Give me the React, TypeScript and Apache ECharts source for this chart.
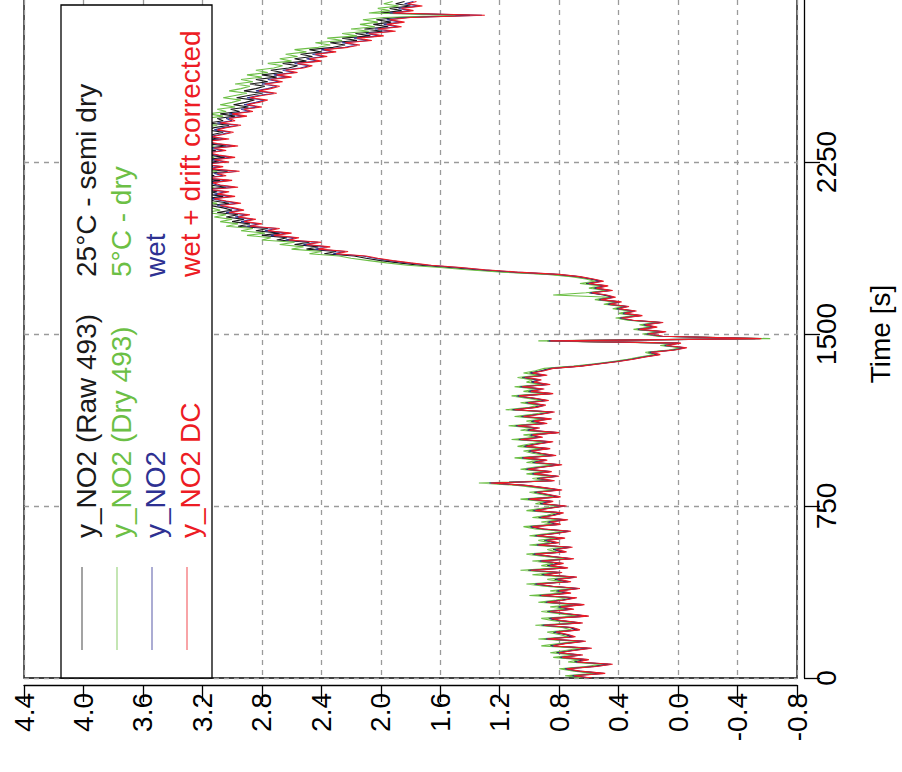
import React, { useEffect, useRef } from "react";
import * as echarts from "echarts";

const SAMPLE_STEP_S = 10;

const RAW_493 = [
 0.60,0.73,0.52,0.68,0.77,0.58,0.47,0.70,0.63,0.80,
 0.66,0.82,0.72,0.61,0.86,0.78,0.64,0.90,0.71,0.76,
 0.84,0.68,0.73,0.92,0.66,0.80,0.87,0.62,0.76,0.88,
 0.72,0.81,0.65,0.90,0.78,0.70,0.94,0.74,0.82,0.68,
 0.86,0.97,0.74,0.83,0.70,0.92,0.80,1.01,0.76,0.88,
 0.79,0.94,0.72,0.86,0.98,0.77,0.84,0.73,0.96,0.82,
 0.90,0.78,0.97,0.84,0.74,0.92,1.00,0.81,0.88,0.76,
 0.94,0.85,0.79,0.98,0.88,0.77,0.93,0.86,1.02,0.81,
 0.89,0.97,0.80,0.92,1.04,1.24,0.85,0.95,0.82,0.99,
 0.87,1.03,0.92,0.80,0.98,0.90,1.06,0.84,0.94,1.01,
 0.88,1.04,0.96,0.86,1.08,0.93,1.00,0.82,1.02,0.95,
 1.10,0.90,0.99,0.87,1.06,0.94,0.85,1.12,0.97,0.91,
 1.03,0.89,0.98,1.09,0.86,1.01,0.92,1.07,0.88,0.99,
 0.94,1.05,0.90,1.00,0.92,0.86,0.67,0.54,0.42,0.32,
 0.24,0.14,0.20,0.04,-0.04,0.10,0.00,0.88,-0.52,0.12,
 0.22,0.10,0.28,0.16,0.24,0.12,0.32,0.40,0.26,0.38,
 0.30,0.42,0.35,0.48,0.40,0.54,0.44,0.50,0.60,0.46,
 0.57,0.49,0.62,0.52,0.59,0.68,0.84,1.14,1.36,1.54,
 1.74,1.88,2.00,2.10,2.18,2.38,2.30,2.50,2.42,2.58,
 2.48,2.70,2.63,2.80,2.68,2.84,2.76,2.96,2.88,3.00,
 2.92,3.04,2.96,3.10,3.00,3.06,3.15,3.02,3.12,3.19,
 3.06,3.17,3.10,3.23,3.04,3.15,3.20,3.08,3.25,3.12,
 3.17,3.03,3.21,3.13,3.27,3.09,3.19,3.05,3.16,3.23,
 3.11,3.19,3.04,3.17,3.25,3.09,3.21,3.13,3.06,3.17,
 3.12,3.02,3.16,3.06,3.10,2.98,3.08,2.95,3.01,2.89,
 2.99,2.91,2.85,2.97,2.89,2.80,2.92,2.84,2.78,2.88,
 2.76,2.84,2.70,2.80,2.66,2.74,2.62,2.56,2.66,2.50,
 2.58,2.46,2.54,2.40,2.48,2.32,2.24,2.34,2.16,2.26,
 2.07,2.17,1.99,2.11,1.95,2.05,1.93,2.03,1.89,1.40,
 2.00,1.86,1.94,1.80,1.90,1.84];

const DRY_493 = [
 0.64,0.76,0.56,0.70,0.80,0.62,0.52,0.74,0.66,0.84,
 0.70,0.86,0.76,0.66,0.92,0.80,0.68,0.94,0.74,0.80,
 0.88,0.72,0.78,0.96,0.70,0.84,0.92,0.68,0.80,0.92,
 0.76,0.86,0.70,0.94,0.82,0.74,1.00,0.78,0.86,0.72,
 0.90,1.02,0.78,0.88,0.74,0.98,0.84,1.06,0.80,0.92,
 0.84,0.98,0.76,0.90,1.02,0.82,0.88,0.78,1.00,0.86,
 0.94,0.82,1.00,0.88,0.78,0.96,1.04,0.84,0.92,0.80,
 0.98,0.88,0.82,1.02,0.92,0.80,0.96,0.90,1.06,0.84,
 0.92,1.00,0.84,0.96,1.08,1.34,0.88,0.98,0.86,1.02,
 0.90,1.06,0.96,0.84,1.02,0.94,1.10,0.88,0.98,1.04,
 0.92,1.08,1.00,0.90,1.12,0.96,1.04,0.86,1.06,0.98,
 1.14,0.94,1.02,0.90,1.10,0.98,0.88,1.16,1.00,0.94,
 1.06,0.92,1.02,1.12,0.90,1.04,0.96,1.10,0.92,1.02,
 0.98,1.08,0.94,1.04,0.96,0.90,0.70,0.56,0.44,0.34,
 0.26,0.16,0.22,0.06,-0.02,0.12,0.02,0.94,-0.62,0.14,
 0.24,0.12,0.30,0.18,0.26,0.14,0.34,0.42,0.28,0.40,
 0.32,0.44,0.37,0.50,0.42,0.56,0.46,0.84,0.62,0.48,
 0.60,0.52,0.66,0.56,0.62,0.72,0.88,1.18,1.42,1.60,
 1.82,1.96,2.08,2.20,2.28,2.48,2.40,2.60,2.52,2.68,
 2.58,2.80,2.74,2.90,2.78,2.94,2.86,3.04,2.96,3.08,
 3.00,3.12,3.04,3.18,3.08,3.14,3.22,3.10,3.20,3.26,
 3.14,3.24,3.18,3.30,3.12,3.22,3.28,3.16,3.32,3.20,
 3.24,3.10,3.28,3.20,3.34,3.16,3.26,3.12,3.24,3.30,
 3.18,3.26,3.12,3.24,3.32,3.16,3.28,3.20,3.14,3.24,
 3.20,3.10,3.24,3.14,3.18,3.06,3.16,3.04,3.10,2.98,
 3.08,3.00,2.94,3.06,2.98,2.90,3.02,2.94,2.88,2.98,
 2.86,2.94,2.80,2.90,2.76,2.84,2.72,2.66,2.76,2.60,
 2.68,2.56,2.64,2.50,2.58,2.42,2.34,2.44,2.26,2.36,
 2.16,2.26,2.08,2.20,2.04,2.14,2.02,2.12,1.98,1.50,
 2.08,1.94,2.02,1.88,1.98,1.92];

const WET = [
 0.59,0.71,0.50,0.67,0.76,0.56,0.45,0.69,0.61,0.79,
 0.65,0.81,0.71,0.59,0.85,0.77,0.63,0.89,0.70,0.75,
 0.83,0.67,0.72,0.91,0.65,0.79,0.86,0.61,0.75,0.87,
 0.71,0.80,0.64,0.89,0.77,0.69,0.93,0.73,0.81,0.67,
 0.85,0.96,0.73,0.82,0.69,0.91,0.79,1.00,0.75,0.87,
 0.78,0.93,0.71,0.85,0.97,0.76,0.83,0.72,0.95,0.81,
 0.89,0.77,0.96,0.83,0.73,0.91,0.99,0.80,0.87,0.75,
 0.93,0.84,0.78,0.97,0.87,0.76,0.92,0.85,1.01,0.80,
 0.88,0.96,0.79,0.91,1.03,1.27,0.84,0.94,0.81,0.98,
 0.86,1.02,0.91,0.79,0.97,0.89,1.05,0.83,0.93,1.00,
 0.87,1.03,0.95,0.85,1.07,0.92,0.99,0.81,1.01,0.94,
 1.09,0.89,0.98,0.86,1.05,0.93,0.84,1.11,0.96,0.90,
 1.02,0.88,0.97,1.08,0.85,1.00,0.91,1.06,0.87,0.98,
 0.93,1.04,0.89,0.99,0.91,0.85,0.66,0.53,0.41,0.31,
 0.23,0.13,0.19,0.03,-0.05,0.09,-0.01,0.87,-0.55,0.11,
 0.21,0.09,0.27,0.15,0.23,0.11,0.31,0.39,0.25,0.37,
 0.29,0.41,0.34,0.47,0.39,0.53,0.43,0.49,0.59,0.45,
 0.56,0.48,0.61,0.51,0.58,0.67,0.81,1.10,1.32,1.48,
 1.68,1.82,1.94,2.04,2.12,2.32,2.24,2.44,2.36,2.52,
 2.42,2.64,2.57,2.74,2.62,2.78,2.70,2.90,2.82,2.94,
 2.86,2.98,2.90,3.04,2.94,3.01,3.10,2.96,3.06,3.14,
 3.00,3.12,3.04,3.18,2.98,3.10,3.15,3.02,3.20,3.06,
 3.12,2.97,3.16,3.08,3.22,3.04,3.14,3.00,3.11,3.18,
 3.06,3.14,2.98,3.12,3.20,3.04,3.16,3.08,3.01,3.12,
 3.06,2.96,3.10,3.00,3.04,2.92,3.02,2.88,2.94,2.82,
 2.92,2.84,2.78,2.90,2.82,2.72,2.84,2.76,2.70,2.80,
 2.68,2.76,2.62,2.72,2.58,2.66,2.54,2.48,2.58,2.42,
 2.50,2.38,2.46,2.32,2.40,2.24,2.16,2.26,2.08,2.18,
 2.00,2.10,1.92,2.04,1.88,1.98,1.86,1.96,1.82,1.32,
 1.94,1.80,1.88,1.74,1.84,1.78];

const WET_DC = [
 0.58,0.70,0.49,0.66,0.75,0.55,0.44,0.68,0.60,0.78,
 0.64,0.80,0.70,0.58,0.84,0.76,0.62,0.88,0.69,0.74,
 0.82,0.66,0.71,0.90,0.64,0.78,0.85,0.60,0.74,0.86,
 0.70,0.79,0.63,0.88,0.76,0.68,0.92,0.72,0.80,0.66,
 0.84,0.95,0.72,0.81,0.68,0.90,0.78,0.99,0.74,0.86,
 0.77,0.92,0.70,0.84,0.96,0.75,0.82,0.71,0.94,0.80,
 0.88,0.76,0.95,0.82,0.72,0.90,0.98,0.79,0.86,0.74,
 0.92,0.83,0.77,0.96,0.86,0.75,0.91,0.84,1.00,0.79,
 0.87,0.95,0.78,0.90,1.02,1.26,0.83,0.93,0.80,0.97,
 0.85,1.01,0.90,0.78,0.96,0.88,1.04,0.82,0.92,0.99,
 0.86,1.02,0.94,0.84,1.06,0.91,0.98,0.80,1.00,0.93,
 1.08,0.88,0.97,0.85,1.04,0.92,0.83,1.10,0.95,0.89,
 1.01,0.87,0.96,1.07,0.84,0.99,0.90,1.05,0.86,0.97,
 0.92,1.03,0.88,0.98,0.90,0.84,0.65,0.52,0.40,0.30,
 0.22,0.12,0.18,0.02,-0.06,0.08,-0.02,0.86,-0.56,0.10,
 0.20,0.08,0.26,0.14,0.22,0.10,0.30,0.38,0.24,0.36,
 0.28,0.40,0.33,0.46,0.38,0.52,0.42,0.48,0.58,0.44,
 0.55,0.47,0.60,0.50,0.57,0.66,0.80,1.08,1.30,1.46,
 1.66,1.80,1.92,2.02,2.10,2.30,2.22,2.42,2.34,2.50,
 2.40,2.62,2.55,2.72,2.60,2.76,2.68,2.88,2.80,2.92,
 2.84,2.96,2.88,3.02,2.92,2.99,3.08,2.94,3.04,3.12,
 2.98,3.10,3.02,3.16,2.96,3.08,3.13,3.00,3.18,3.04,
 3.10,2.95,3.14,3.06,3.20,3.02,3.12,2.98,3.09,3.16,
 3.04,3.12,2.96,3.10,3.18,3.02,3.14,3.06,2.99,3.10,
 3.04,2.94,3.08,2.98,3.02,2.90,3.00,2.86,2.92,2.80,
 2.90,2.82,2.76,2.88,2.80,2.70,2.82,2.74,2.68,2.78,
 2.66,2.74,2.60,2.70,2.56,2.64,2.52,2.46,2.56,2.40,
 2.48,2.36,2.44,2.30,2.38,2.22,2.14,2.24,2.06,2.16,
 1.98,2.08,1.90,2.02,1.86,1.96,1.84,1.94,1.80,1.30,
 1.92,1.78,1.86,1.72,1.82,1.76];

const TIME_S = WET_DC.map((_, i) => i * SAMPLE_STEP_S);

const SERIES_NAMES = ["y_NO2 (Raw 493)", "y_NO2 (Dry 493)", "y_NO2", "y_NO2 DC"];
const SERIES_NOTES = ["25°C - semi dry", "5°C - dry", "wet", "wet + drift corrected"];
const COLORS = ["#1a1a1a", "#6cbf45", "#2e3192", "#ed1c24"];
const SERIES_DATA = [RAW_493, DRY_493, WET, WET_DC];

const FONT = '"Liberation Sans", Arial, sans-serif';
// The plot's top edge lies above the visible page: the chart canvas is
// drawn SHIFT px taller and moved up by SHIFT px.
const SHIFT = 10;

export default function App() {
  const ref = useRef<HTMLDivElement>(null);
  useEffect(() => {
    document.body.style.margin = "0";
    const chart = echarts.init(ref.current!, null, { renderer: "svg" });

    const legendCols = [86, 121, 155, 190];
    const sampleX = [82, 117, 152, 187];
    const graphics: any[] = [
      {
        type: "rect",
        z: 100,
        shape: { x: 61, y: 5 + SHIFT, width: 151, height: 673 },
        style: { fill: "#fff", stroke: "#000", lineWidth: 1.3 },
      },
    ];
    SERIES_NAMES.forEach((name, i) => {
      graphics.push({
        type: "line",
        z: 101,
        shape: { x1: sampleX[i], y1: 650 + SHIFT, x2: sampleX[i], y2: 567 + SHIFT },
        style: { stroke: COLORS[i], lineWidth: 1, opacity: 0.8 },
      });
      [
        { text: name, y: 538 },
        { text: SERIES_NOTES[i], y: 277 },
      ].forEach((t) => {
        graphics.push({
          type: "text",
          z: 101,
          x: legendCols[i],
          y: t.y + SHIFT,
          rotation: Math.PI / 2,
          style: {
            text: t.text,
            fill: COLORS[i],
            font: `28px ${FONT}`,
            textAlign: "left",
            textVerticalAlign: "middle",
            align: "left",
            verticalAlign: "middle",
          },
        });
      });
    });

    chart.setOption({
      animation: false,
      backgroundColor: "#fff",
      grid: {
        left: 24,
        right: 92,
        bottom: 94,
        top: 0,
        show: true,
        borderColor: "#000",
        borderWidth: 1.3,
        backgroundColor: "transparent",
      },
      xAxis: {
        type: "value",
        min: -0.8,
        max: 4.4,
        interval: 0.4,
        inverse: true,
        position: "bottom",
        offset: 7,
        axisLine: { show: true, onZero: false, lineStyle: { color: "#000", width: 1.3 } },
        axisTick: { show: true, inside: false, length: 17, lineStyle: { color: "#000", width: 1.3 } },
        axisLabel: {
          rotate: 90,
          margin: 8,
          fontSize: 28,
          color: "#000",
          fontFamily: FONT,
          formatter: (v: number) => (Math.abs(v) < 1e-9 ? "0.0" : v.toFixed(1)),
        },
        splitLine: { show: true, lineStyle: { color: "#9a9a9a", type: [5, 5], width: 1.3 } },
      },
      yAxis: {
        type: "value",
        min: 0,
        max: 3000,
        interval: 750,
        position: "right",
        offset: 7,
        name: "Time [s]",
        nameLocation: "middle",
        nameRotate: 90,
        nameGap: 62,
        nameTextStyle: { fontSize: 28, color: "#000", fontFamily: FONT },
        axisLine: { show: true, onZero: false, lineStyle: { color: "#000", width: 1.3 } },
        axisTick: { show: true, inside: false, length: 16, lineStyle: { color: "#000", width: 1.3 } },
        axisLabel: {
          rotate: 90,
          margin: 8,
          fontSize: 28,
          color: "#000",
          fontFamily: FONT,
          showMaxLabel: false,
          formatter: (v: number) => String(v),
        },
        splitLine: { show: true, lineStyle: { color: "#9a9a9a", type: [5, 5], width: 1.3 } },
      },
      series: SERIES_DATA.map((arr, i) => ({
        type: "line",
        name: SERIES_NAMES[i],
        showSymbol: false,
        symbol: "none",
        lineStyle: { color: COLORS[i], width: 1.1 },
        itemStyle: { color: COLORS[i] },
        data: arr.map((v, j) => [v, TIME_S[j]]),
        z: 2 + i,
      })),
      graphic: graphics,
    });
    return () => chart.dispose();
  }, []);
  return (
    <div style={{ width: 902, height: 772, overflow: "hidden", position: "relative" }}>
      <div
        ref={ref}
        style={{ width: 902, height: 772 + SHIFT, position: "absolute", left: 0, top: -SHIFT }}
      />
    </div>
  );
}
